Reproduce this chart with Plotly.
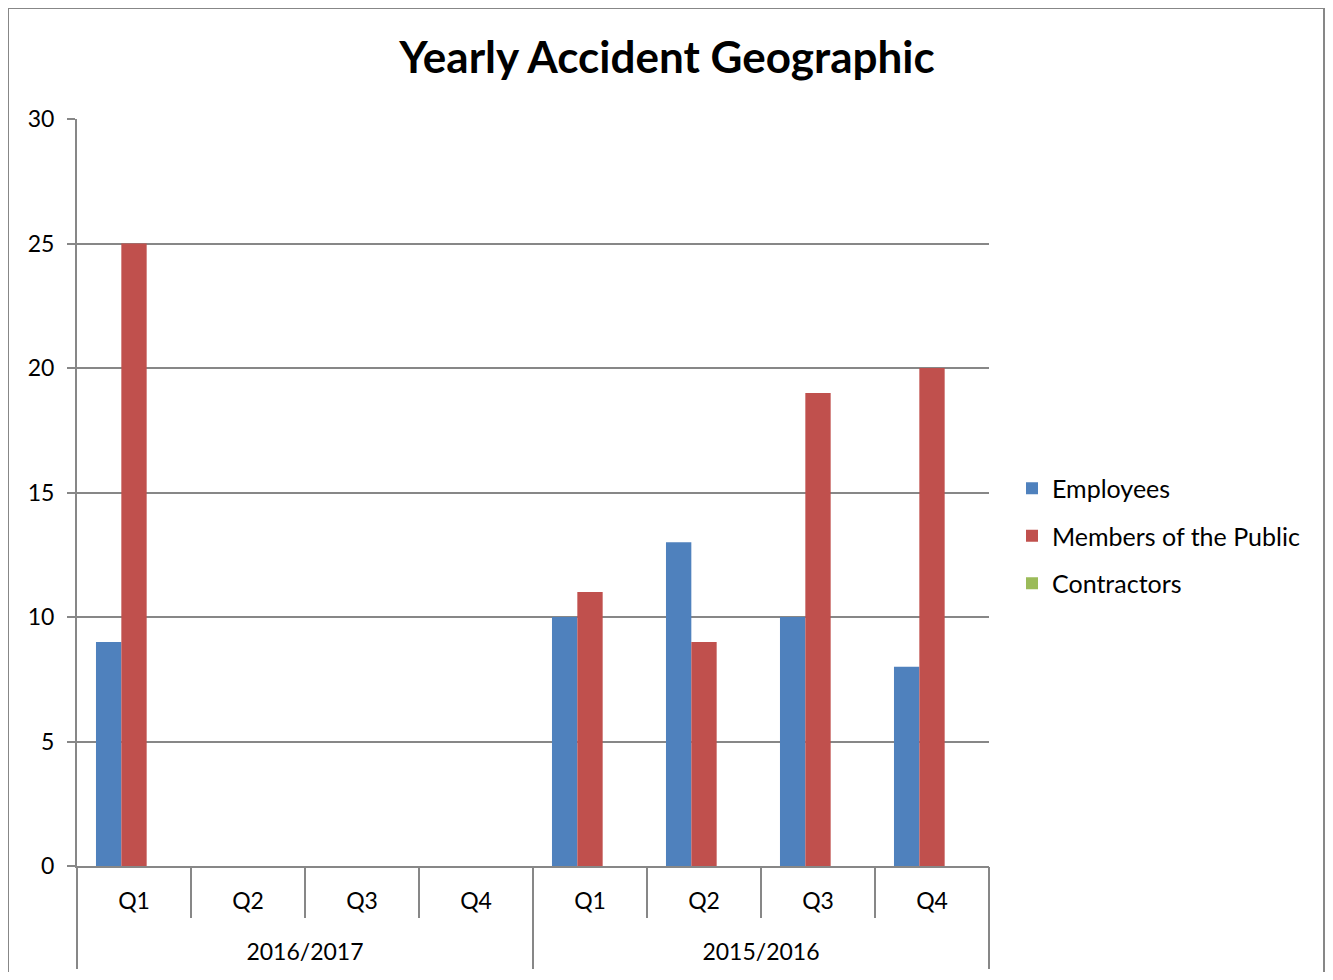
import plotly.graph_objects as go

years = ["2016/2017"] * 4 + ["2015/2016"] * 4
quarters = ["Q1", "Q2", "Q3", "Q4", "Q1", "Q2", "Q3", "Q4"]
employees = [9, None, None, None, 10, 13, 10, 8]
public = [25, None, None, None, 11, 9, 19, 20]
contractors = [0, None, None, None, 0, 0, 0, 0]

FONT = "Lato"
GRID = "#878787"
OFF = 8  # page offset of the figure (body margin)

W, H = 1317, 964
PL, PR, PT, PB = 77 - OFF, 989 - OFF, 119 - OFF, 866 - OFF
PW, PH = PR - PL, PB - PT

idx = list(range(len(quarters)))
boundaries = [i - 0.5 for i in range(len(quarters) + 1)]
year_names = list(dict.fromkeys(years))
year_centers = [sum(i for i in idx if years[i] == y) / years.count(y) for y in year_names]
year_bounds = [-0.5] + [max(i for i in idx if years[i] == y) + 0.5 for y in year_names]
xr = [-0.5, len(quarters) - 0.5]

fig = go.Figure()
for name, vals, col in [
    ("Employees", employees, "#4F81BD"),
    ("Members of the Public", public, "#C0504D"),
    ("Contractors", contractors, "#9BBB59"),
]:
    fig.add_trace(go.Bar(
        x=idx, y=vals, name=name,
        marker=dict(color=col, line=dict(width=0)),
        legendgroup=name,
    ))
# helper trace so the year-level axis is drawn
fig.add_trace(go.Scatter(x=year_centers, y=[0] * len(year_centers), xaxis="x2",
                         mode="markers", marker=dict(opacity=0), showlegend=False,
                         hoverinfo="skip"))

fig.update_layout(
    width=W, height=H,
    margin=dict(l=PL, r=W - PR, t=PT, b=H - PB, autoexpand=False),
    paper_bgcolor="white", plot_bgcolor="white",
    barmode="group", bargap=0.333, bargroupgap=0,
    font=dict(family=FONT, size=23, color="black"),
    title=dict(text="<b>Yearly Accident Geographic</b>", x=(667 - OFF) / W, xref="container",
               xanchor="center", y=1 - (58 - OFF) / H, yanchor="middle",
               font=dict(family=FONT, size=44, color="black")),
    legend=dict(x=(1012 - OFF - PL) / PW, xanchor="left", y=(866 - 536) / PH, yanchor="middle",
                font=dict(family=FONT, size=25), tracegroupgap=12,
                itemwidth=30),
    showlegend=True,
    xaxis=dict(
        range=xr, tickmode="array", tickvals=idx, ticktext=quarters, ticks="",
        showline=True, linecolor=GRID, linewidth=2, showgrid=False, zeroline=False,
        ticklabelstandoff=13, automargin=False,
        minor=dict(tickmode="array", tickvals=boundaries, ticks="outside", ticklen=50,
                   tickwidth=2, tickcolor=GRID, showgrid=False),
        tickfont=dict(family=FONT, size=23, color="black"),
    ),
    xaxis2=dict(
        overlaying="x", anchor="y", side="bottom", range=xr,
        tickmode="array", tickvals=year_centers, ticktext=year_names, ticks="",
        showline=False, showgrid=False, zeroline=False,
        ticklabelstandoff=70, automargin=False,
        minor=dict(tickmode="array", tickvals=year_bounds, ticks="outside", ticklen=102,
                   tickwidth=2, tickcolor=GRID, showgrid=False),
        tickfont=dict(family=FONT, size=23, color="black"),
    ),
    yaxis=dict(
        range=[0, 30], dtick=5, showgrid=True, gridcolor=GRID, gridwidth=2,
        showline=True, linecolor=GRID, linewidth=2,
        ticks="outside", ticklen=8, tickwidth=2, tickcolor=GRID,
        zeroline=False, ticklabelstandoff=8, automargin=False,
        tickfont=dict(family=FONT, size=23, color="black"),
    ),
)
fig.add_shape(type="rect", xref="paper", yref="paper",
              x0=(8 - OFF - PL) / PW, x1=(W - 1 - PL) / PW,
              y0=-(H + 20 - PB) / PH, y1=(PB - 0) / PH,
              line=dict(color=GRID, width=2), fillcolor="rgba(0,0,0,0)", layer="below")
fig.write_html("out.html")
